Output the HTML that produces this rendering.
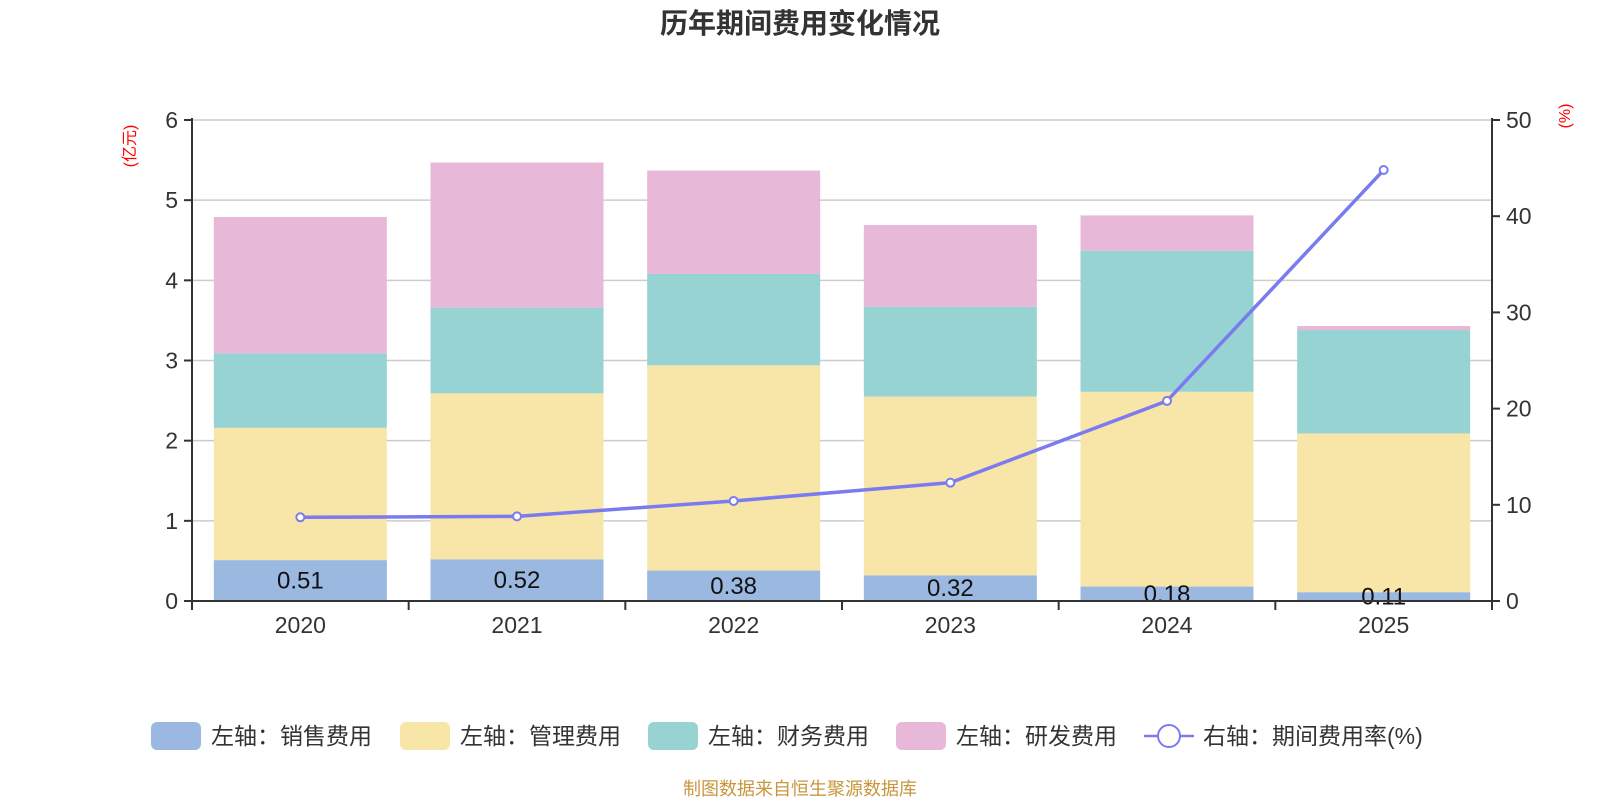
<!DOCTYPE html>
<html><head><meta charset="utf-8"><style>
body{margin:0;background:#fff;}
svg{display:block;font-family:"Liberation Sans","Noto Sans CJK SC",sans-serif;}
</style></head><body>
<svg id="c" width="1600" height="800">
<text x="800" y="33" text-anchor="middle" font-size="28" font-weight="bold" fill="#333">历年期间费用变化情况</text>
<text transform="translate(135,146) rotate(-90)" text-anchor="middle" font-size="16" fill="red">(亿元)</text>
<text transform="translate(1570,116) rotate(-90)" text-anchor="middle" font-size="16" fill="red">(%)</text>
<g id="grid"></g><g id="bars"></g><g id="axes"></g><g id="line"></g><g id="legend"></g>
<text x="800" y="795" text-anchor="middle" font-size="18" fill="#c8963c">制图数据来自恒生聚源数据库</text>
</svg>
<script>
const categories=["2020","2021","2022","2023","2024","2025"];
const sales=[0.51,0.52,0.38,0.32,0.18,0.11];
const mgmt=[1.65,2.07,2.56,2.23,2.43,1.98];
const fin=[0.93,1.07,1.14,1.12,1.76,1.29];
const rd=[1.70,1.81,1.29,1.02,0.44,0.05];
const rate=[8.7,8.8,10.4,12.3,20.8,44.8];
const leftTicks=[0,1,2,3,4,5,6];
const rightTicks=[0,10,20,30,40,50];
const seriesNames=["左轴：销售费用","左轴：管理费用","左轴：财务费用","左轴：研发费用"];
const colors=["#9bb8e0","#f7e6a8","#98d3d4","#e7b8d8"];
const NS="http://www.w3.org/2000/svg";
const L=192,R=1492,T=120,B=601;
const band=(R-L)/categories.length, bw=173;
const xC=i=>L+band*(i+0.5);
const yL=v=>B-(B-T)*v/6;
const yR=v=>B-(B-T)*v/50;
function mk(p,tag,a){const e=document.createElementNS(NS,tag);for(const k in a)e.setAttribute(k,a[k]);p.appendChild(e);return e;}
const G=document.getElementById('grid'),BA=document.getElementById('bars'),AX=document.getElementById('axes'),LN=document.getElementById('line'),LG=document.getElementById('legend');
leftTicks.forEach(t=>{
 if(t>0){const g=mk(G,'line',{x1:L,x2:R,y1:yL(t),y2:yL(t),stroke:'#ccc','stroke-width':1.5});
 
 }
 const tk=mk(AX,'line',{x1:L-8,x2:L,y1:yL(t),y2:yL(t),stroke:'#333','stroke-width':2});
 
 
 const tx=mk(AX,'text',{x:L-14,y:yL(t)+8,'text-anchor':'end','font-size':23,fill:'#333'});tx.textContent=t;
 
 
});
rightTicks.forEach(t=>{
 const tk=mk(AX,'line',{x1:R,x2:R+8,y1:yR(t),y2:yR(t),stroke:'#333','stroke-width':2});
 
 
 const tx=mk(AX,'text',{x:R+14,y:yR(t)+8,'font-size':23,fill:'#333'});tx.textContent=t;
 
 
});
const series=[sales,mgmt,fin,rd];
categories.forEach((c,i)=>{
 let base=0;
 series.forEach((s,k)=>{
  const r=mk(BA,'rect',{x:xC(i)-bw/2,y:yL(base+s[i]),width:bw,height:yL(base)-yL(base+s[i]),fill:colors[k]});
  
  
  base+=s[i];
 });
 const lb=mk(BA,'text',{x:xC(i),y:(yL(0)+yL(sales[i]))/2+8,'text-anchor':'middle','font-size':24,fill:'#111'});lb.textContent=sales[i].toFixed(2);
 
 
 const xl=mk(AX,'text',{x:xC(i),y:B+32,'text-anchor':'middle','font-size':23,fill:'#333'});xl.textContent=c;
 
 
});
for(let i=0;i<=categories.length;i++){const tk=mk(AX,'line',{x1:L+band*i,x2:L+band*i,y1:B,y2:B+9,stroke:'#333','stroke-width':2});
 
 }
let a=mk(AX,'line',{x1:L,x2:L,y1:T-2,y2:B+1,stroke:'#333','stroke-width':2});
a=mk(AX,'line',{x1:R,x2:R,y1:T-2,y2:B+1,stroke:'#333','stroke-width':2});
a=mk(AX,'line',{x1:L,x2:R,y1:B,y2:B,stroke:'#333','stroke-width':2});
const pl=mk(LN,'polyline',{points:rate.map((v,i)=>xC(i)+','+yR(v)).join(' '),fill:'none',stroke:'#7b7bf0','stroke-width':3.5});


rate.forEach((v,i)=>{const p=mk(LN,'circle',{cx:xC(i),cy:yR(v),r:4,fill:'#fff',stroke:'#7b7bf0','stroke-width':2});
 
 });
const lx=[151,400,648,896];
seriesNames.forEach((n,k)=>{
 const g=mk(LG,'g',{});
 
 
 mk(g,'rect',{x:lx[k],y:722,width:50,height:28,rx:6,fill:colors[k]});
 const t=mk(g,'text',{x:lx[k]+60,y:744,'font-size':23,fill:'#333'});t.textContent=n;
});
const g=mk(LG,'g',{});


mk(g,'line',{x1:1144,x2:1194,y1:736,y2:736,stroke:'#7b7bf0','stroke-width':2.5});
mk(g,'circle',{cx:1169,cy:736,r:11,fill:'#fff',stroke:'#7b7bf0','stroke-width':2});
const t=mk(g,'text',{x:1203,y:744,'font-size':23,fill:'#333'});t.textContent="右轴：期间费用率(%)";
</script>
</body></html>
